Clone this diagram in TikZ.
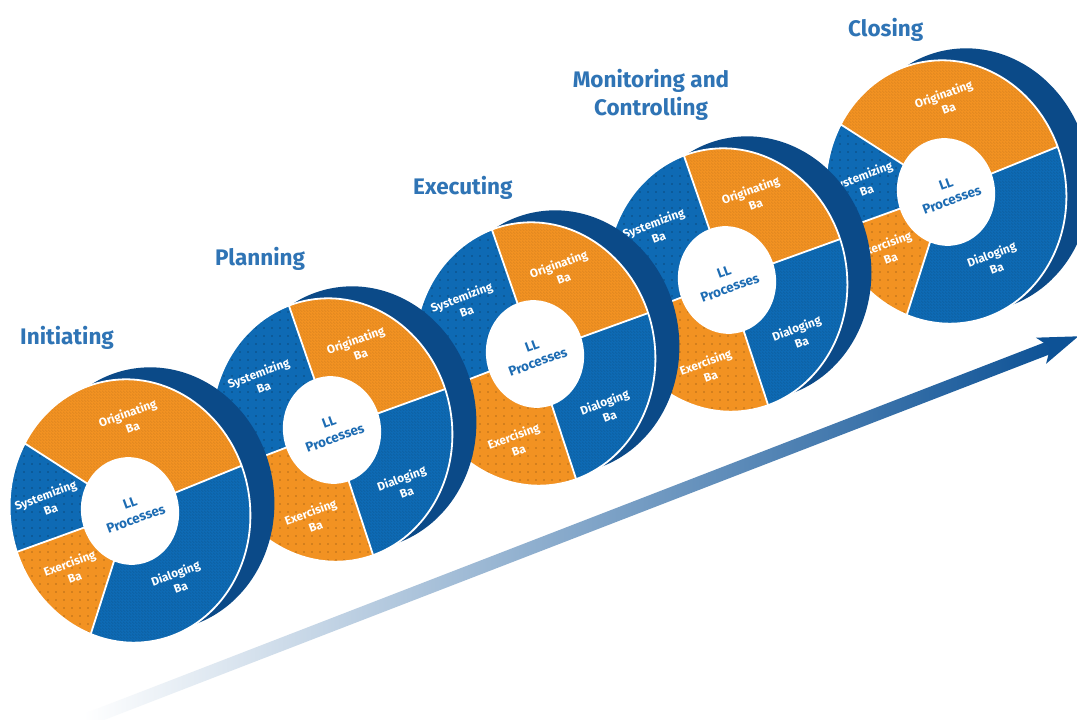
\documentclass[tikz,border=0pt]{standalone}
\usepackage{fontspec}
\setmainfont{Fira Sans}
\usetikzlibrary{patterns}
\definecolor{orangeA}{HTML}{F29222}
\definecolor{blueA}{HTML}{0E6AB4}
\definecolor{rimblue}{HTML}{0B4A88}
\definecolor{titleblue}{HTML}{2F74B5}
\definecolor{llblue}{HTML}{1D6CB3}
\definecolor{arrowblue}{HTML}{0D5296}
\pgfdeclarepatternformonly{sdots}{\pgfqpoint{-1pt}{-1pt}}{\pgfqpoint{1pt}{1pt}}{\pgfqpoint{8pt}{8pt}}{%
  \pgfpathcircle{\pgfqpoint{0pt}{0pt}}{0.9pt}\pgfusepath{fill}}
\pgfdeclarepatternformonly{hatchl}{\pgfqpoint{0pt}{0pt}}{\pgfqpoint{3pt}{3pt}}{\pgfqpoint{3pt}{3pt}}{%
  \pgfsetlinewidth{0.45pt}\pgfpathmoveto{\pgfqpoint{0pt}{3pt}}\pgfpathlineto{\pgfqpoint{3pt}{0pt}}\pgfusepath{stroke}}
\newcommand\sectorpath[2]{(0,0) -- (#1:120 and 132) arc[start angle=#1, end angle=#2, x radius=120, y radius=132] -- cycle}
\newcommand\discbody[4]{%
  \begin{scope}[shift={(24,12)},rotate=10]
    \fill[rimblue] (0,0) ellipse [x radius=120, y radius=132];
  \end{scope}
  \begin{scope}[rotate=10]
    \fill[orangeA] \sectorpath{#1}{#2};
    \fill[pattern=hatchl, pattern color=orangeA!88!black] \sectorpath{#1}{#2};
    \fill[blueA] \sectorpath{#2}{#3};
    \fill[pattern=sdots, pattern color=blueA!70!black] \sectorpath{#2}{#3};
    \fill[orangeA] \sectorpath{#3}{#4};
    \fill[pattern=sdots, pattern color=orangeA!75!black] \sectorpath{#3}{#4};
    \fill[blueA] \sectorpath{#4}{360+#1};
    \fill[pattern=hatchl, pattern color=blueA!85!black] \sectorpath{#4}{360+#1};
    \foreach \a in {#1,#2,#3,#4} \draw[white, line width=1.8] (0,0) -- (\a:120 and 132);
    \draw[white, line width=1.8] (0,0) ellipse [x radius=120, y radius=132];
    \fill[white] (0,0) ellipse [x radius=49, y radius=54];
  \end{scope}
}
\tikzset{
  lbl/.style={text=white, font=\bfseries\fontsize{11.8}{15}\selectfont, align=center, rotate=20, inner sep=0pt},
  llbl/.style={text=llblue, font=\bfseries\fontsize{13.5}{17}\selectfont, align=center, rotate=20, inner sep=0pt},
  ttl/.style={text=titleblue, font=\bfseries\fontsize{22.5}{28}\selectfont, inner sep=0pt},
  pics/discA/.style={code={%
    \discbody{11}{140}{189}{240}
    \node[lbl] (-orig) at (0,91) {Originating\\Ba};
    \node[lbl] (-sys) at (-82,9) {Systemizing\\Ba};
    \node[lbl] (-ex) at (-58,-59) {Exercising\\Ba};
    \node[lbl] (-dial) at (48,-69) {Dialoging\\Ba};
    \node[llbl] (-ll) at (3,0) {LL\\Processes};
  }},
  pics/discB/.style={code={%
    \discbody{9}{100}{190}{279}
    \node[lbl] (-orig) at (26,83) {Originating\\Ba};
    \node[lbl] (-sys) at (-71,50) {Systemizing\\Ba};
    \node[lbl] (-ex) at (-19,-89) {Exercising\\Ba};
    \node[lbl] (-dial) at (72,-55) {Dialoging\\Ba};
    \node[llbl] (-ll) at (0,0) {LL\\Processes};
  }},
}
\begin{document}
\begin{tikzpicture}[x=1pt,y=1pt]
\useasboundingbox (0,0) rectangle (1077,720);
\fill[white] (0,0) rectangle (1077,720);
% progress arrow
\begin{scope}[shift={(86,0)}, rotate=21.14]
  \coordinate (a0) at (0,0);
  \coordinate (a1) at (1064,0);
  \shade[left color=white, right color=arrowblue, middle color=arrowblue!50!white]
    (0,-6.5) -- (1036,-6.5) -- (1036,6.5) -- (0,6.5) -- cycle;
  \fill[arrowblue] (a1) -- ++(-40,14) -- ++(10,-14) -- ++(-10,-14) -- cycle;
\end{scope}
% discs, back to front
\pic (d5) at (946,528) {discA};
\pic (d4) at (727,440) {discB};
\pic (d3) at (535,366) {discB};
\pic (d2) at (332,290) {discB};
\pic (d1) at (130,209) {discA};
% titles
\node[ttl, anchor=base west] (t1) at (20,375) {Initiating};
\node[ttl, anchor=base west] (t2) at (215,454) {Planning};
\node[ttl, anchor=base west] (t3) at (413,525) {Executing};
\node[ttl, align=center] (t4) at (651,625) {Monitoring and\\Controlling};
\node[ttl, anchor=base west] (t5) at (848,683) {Closing};
\end{tikzpicture}
\end{document}
